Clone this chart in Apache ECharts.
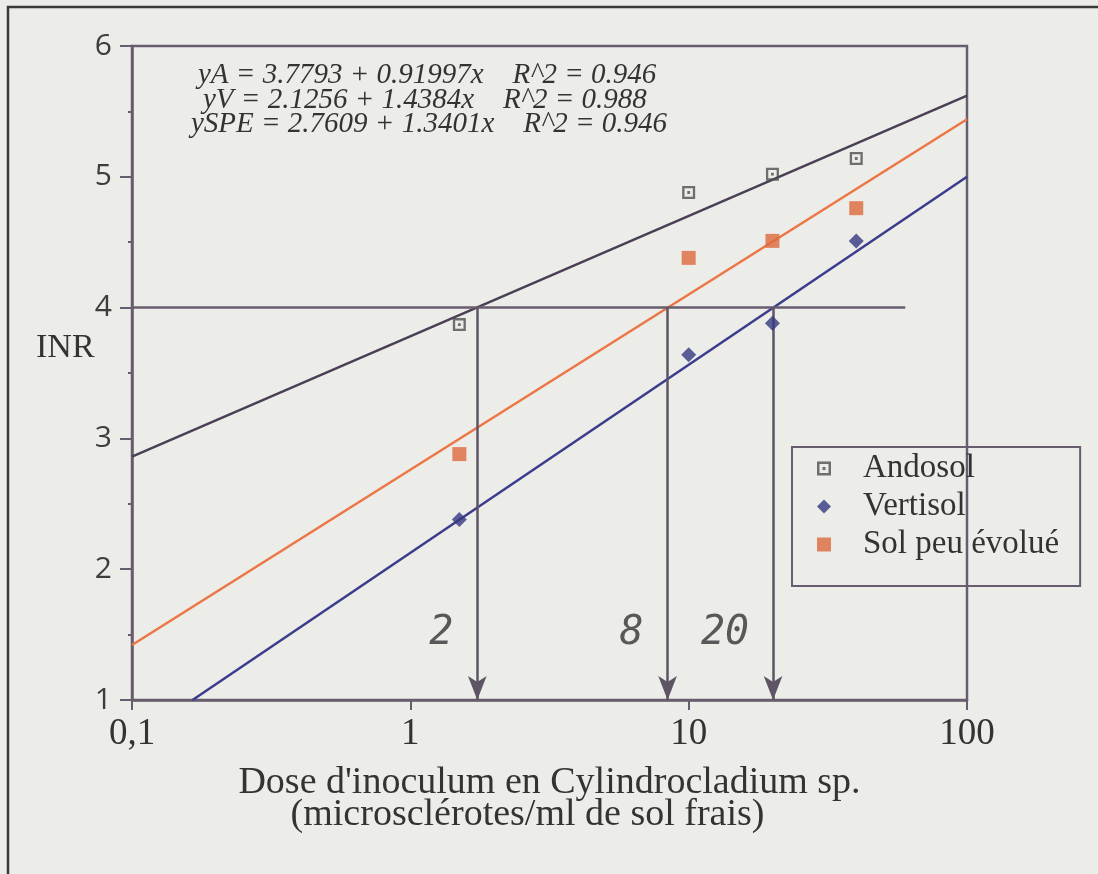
<!DOCTYPE html>
<html>
<head>
<meta charset="utf-8">
<script src="https://cdn.jsdelivr.net/npm/echarts@6/dist/echarts.min.js"></script>
<style>
  html, body { margin: 0; padding: 0; background: #ecece9; }
  #chart { width: 1098px; height: 874px; }
</style>
</head>
<body>
<div id="chart"></div>
<script>
// doses (microsclerotes/ml) and INR per soil
const doses = [1.5, 10, 20, 40];
const andosol = [3.87, 4.88, 5.02, 5.14];
const vertisol = [2.38, 3.64, 3.88, 4.51];
const solPeu = [2.88, 4.38, 4.51, 4.76];

// regression lines, end points
const fitAndosol = [[0.1, 2.86], [100, 5.62]];
const fitVertisol = [[0.165, 1.0], [100, 5.0]];
const fitSolPeu = [[0.1, 1.42], [100, 5.44]];

// INR = 4 threshold and the doses where each line crosses it
const threshold = 4;
const thresholdEnd = 60;
const arrowDoses = [1.74, 8.4, 20.1];
const arrowLabels = ['2', '8', '20'];
const arrowLabelY = 1.51;

const equations = [
  'yA = 3.7793 + 0.91997x    R^2 = 0.946',
  'yV = 2.1256 + 1.4384x    R^2 = 0.988',
  'ySPE = 2.7609 + 1.3401x    R^2 = 0.946'
];

const axisColor = '#675d6e';
const textColor = '#333';
const eqFont = 'italic 29px "Liberation Serif"';
const andosolSymbol = 'path://M0,0H14V14H0Z M2.5,2.5V11.5H11.5V2.5Z M5.5,5.5H8.5V8.5H5.5Z';

const pts = (vals) => doses.map((d, i) => [d, vals[i]]);

const chart = echarts.init(document.getElementById('chart'));

chart.setOption({
  backgroundColor: '#ecece9',
  animation: false,
  grid: {
    left: 132,
    right: 131,
    top: 46,
    bottom: 174,
    show: true,
    borderColor: axisColor,
    borderWidth: 2.5,
  },
  xAxis: {
    type: 'log',
    logBase: 10,
    min: 0.1,
    max: 100,
    name: "{a|Dose d'inoculum en Cylindrocladium sp.}\n{b|(microsclérotes/ml de sol frais)}",
    nameLocation: 'middle',
    nameGap: 67,
    nameTextStyle: {
      rich: {
        a: { fontFamily: 'Liberation Serif', fontSize: 38, color: textColor, lineHeight: 32 },
        b: { fontFamily: 'Liberation Serif', fontSize: 38, color: textColor, lineHeight: 32, padding: [0, 44, 0, 0] },
      },
    },
    axisLine: { lineStyle: { color: axisColor, width: 2.5 } },
    axisTick: { show: true, length: 10, lineStyle: { color: axisColor, width: 2 } },
    axisLabel: {
      fontFamily: 'Liberation Serif',
      fontSize: 37,
      color: textColor,
      margin: 16,
      formatter: (v) => (v < 0.5 ? '0,1' : String(v)),
    },
    splitLine: { show: false },
  },
  yAxis: {
    type: 'value',
    min: 1,
    max: 6,
    interval: 1,
    axisLine: { lineStyle: { color: axisColor, width: 2.5 } },
    axisTick: { show: true, length: 12, lineStyle: { color: axisColor, width: 2 } },
    minorTick: { show: true, splitNumber: 2, length: 4, lineStyle: { color: axisColor, width: 2 } },
    axisLabel: {
      fontFamily: 'Open Sans',
      fontSize: 30,
      color: '#3d3d3d',
      margin: 20,
    },
    splitLine: { show: false },
  },
  legend: {
    orient: 'vertical',
    left: 792,
    top: 447,
    data: ['Andosol', 'Vertisol', 'Sol peu évolué'],
    itemWidth: 14,
    itemHeight: 14,
    itemGap: 5,
    padding: [5, 21, 25, 25],
    borderColor: axisColor,
    borderWidth: 2,
    textStyle: {
      fontFamily: 'Liberation Serif',
      fontSize: 33,
      color: textColor,
      lineHeight: 30,
      padding: [0, 0, 0, 27],
    },
  },
  graphic: [
    {
      type: 'rect',
      silent: true,
      z: -1,
      shape: { x: 8, y: 7, width: 1300, height: 1000 },
      style: { fill: 'none', stroke: '#3a3a3a', lineWidth: 2.5 },
    },
    {
      type: 'text',
      left: 36,
      top: 331,
      style: { text: 'INR', font: '34px "Liberation Serif"', fill: textColor },
    },
    {
      type: 'text',
      left: 198,
      top: 61,
      style: { text: equations[0], font: eqFont, fill: textColor },
    },
    {
      type: 'text',
      left: 203,
      top: 86,
      style: { text: equations[1], font: eqFont, fill: textColor },
    },
    {
      type: 'text',
      left: 191,
      top: 110,
      style: { text: equations[2], font: eqFont, fill: textColor },
    },
  ],
  series: [
    {
      name: 'fit Andosol',
      type: 'line',
      data: fitAndosol,
      showSymbol: false,
      silent: true,
      lineStyle: { color: '#4b3f55', width: 2.5 },
    },
    {
      name: 'fit Vertisol',
      type: 'line',
      data: fitVertisol,
      showSymbol: false,
      silent: true,
      lineStyle: { color: '#3b3c8c', width: 2.5 },
    },
    {
      name: 'fit Sol peu',
      type: 'line',
      data: fitSolPeu,
      showSymbol: false,
      silent: true,
      lineStyle: { color: '#ec7645', width: 2.5 },
    },
    {
      name: 'seuil',
      type: 'line',
      data: [],
      silent: true,
      markLine: {
        silent: true,
        symbol: ['none', 'none'],
        label: { show: false },
        lineStyle: { color: axisColor, width: 2.5, type: 'solid' },
        data: [[{ coord: [0.1, threshold] }, { coord: [thresholdEnd, threshold] }]],
      },
    },
    {
      name: 'fleches',
      type: 'line',
      data: [],
      silent: true,
      markLine: {
        silent: true,
        symbol: ['none', 'arrow'],
        symbolSize: [14, 24],
        label: { show: false },
        lineStyle: { color: '#5d5563', width: 2.5, type: 'solid' },
        itemStyle: { color: '#3d3741' },
        data: arrowDoses.map((d) => [{ coord: [d, threshold] }, { coord: [d, 1] }]),
      },
    },
    {
      name: 'doses seuil',
      type: 'scatter',
      silent: true,
      symbolSize: 0,
      data: arrowDoses.map((d) => [d, arrowLabelY]),
      label: {
        show: true,
        position: 'left',
        distance: 24,
        formatter: (p) => arrowLabels[p.dataIndex],
        fontFamily: 'DejaVu Sans Mono',
        fontStyle: 'italic',
        fontSize: 40,
        color: '#333',
      },
    },
    {
      name: 'Andosol',
      type: 'scatter',
      data: pts(andosol),
      symbol: andosolSymbol,
      symbolSize: 13,
      itemStyle: { color: '#4f4f4f' },
      z: 5,
    },
    {
      name: 'Vertisol',
      type: 'scatter',
      data: pts(vertisol),
      symbol: 'diamond',
      symbolSize: 15,
      itemStyle: { color: '#34387f' },
      z: 5,
    },
    {
      name: 'Sol peu évolué',
      type: 'scatter',
      data: pts(solPeu),
      symbol: 'rect',
      symbolSize: 14,
      itemStyle: { color: '#dd6a3c' },
      z: 5,
    },
  ],
});
</script>
</body>
</html>
